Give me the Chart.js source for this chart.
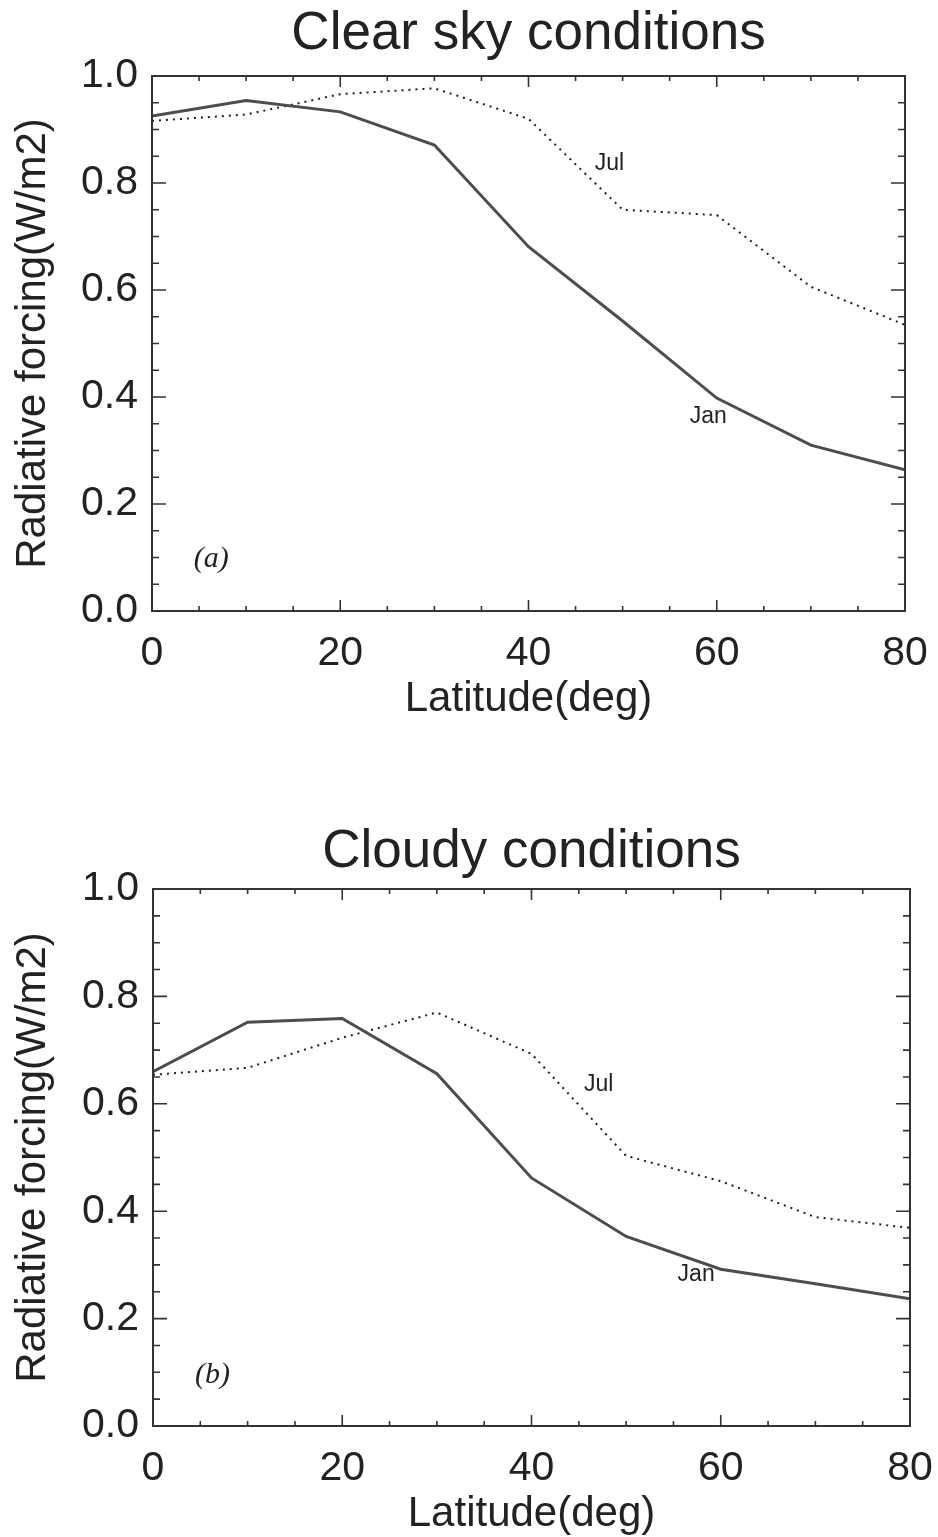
<!DOCTYPE html>
<html>
<head>
<meta charset="utf-8">
<script src="https://cdn.jsdelivr.net/npm/chart.js@4.4.1/dist/chart.umd.min.js"></script>
<style>
  html, body { margin: 0; padding: 0; background: #fff; }
  #wrap { position: relative; width: 938px; height: 1537px; }
  #boxA { position: absolute; left: 0; top: 0; width: 938px; height: 770px; }
  #boxB { position: absolute; left: 0; top: 770px; width: 938px; height: 767px; }
</style>
</head>
<body>
<div id="wrap">
  <div id="boxA"><canvas id="clearChart" width="938" height="770"></canvas></div>
  <div id="boxB"><canvas id="cloudyChart" width="938" height="767"></canvas></div>
</div>
<script>
// latitudine (gradi)
const latitudes = [0, 10, 20, 30, 40, 50, 60, 70, 80];

// cielo sereno
const clearJan = [0.925, 0.954, 0.933, 0.871, 0.681, 0.542, 0.398, 0.310, 0.264];
const clearJul = [0.916, 0.928, 0.966, 0.977, 0.920, 0.750, 0.740, 0.606, 0.535];

// cielo nuvoloso
const cloudyJan = [0.660, 0.752, 0.759, 0.656, 0.462, 0.353, 0.292, 0.265, 0.237];
const cloudyJul = [0.654, 0.667, 0.723, 0.770, 0.693, 0.503, 0.456, 0.389, 0.369];

// tick
const xTicks = [0, 20, 40, 60, 80];
const yTicks = [0.0, 0.2, 0.4, 0.6, 0.8, 1.0];

const FONT = "'Liberation Sans', Arial, Helvetica, sans-serif";
const INK = '#222';

// riquadro con tacche verso l'interno (stile IDL)
const boxTicks = {
    id: 'boxTicks',
    afterDatasetsDraw(chart) {
        const { ctx, chartArea: a, scales: { x, y } } = chart;
        ctx.save();
        ctx.strokeStyle = '#333';
        ctx.lineWidth = 2;
        ctx.strokeRect(a.left, a.top, a.right - a.left, a.bottom - a.top);
        ctx.lineWidth = 1.6;
        ctx.beginPath();
        // tacche asse x: maggiori ogni 20, minori ogni 5
        for (let v = x.min; v <= x.max + 1e-6; v += 5) {
            const px = x.getPixelForValue(v);
            const len = xTicks.includes(Math.round(v)) ? 11 : 5;
            ctx.moveTo(px, a.bottom); ctx.lineTo(px, a.bottom - len);
            ctx.moveTo(px, a.top); ctx.lineTo(px, a.top + len);
        }
        // tacche asse y: maggiori ogni 0.2, minori ogni 0.05
        for (let k = 0; k <= 20; k++) {
            const v = k * 0.05;
            const py = y.getPixelForValue(v);
            const len = (k % 4 === 0) ? 14 : 7;
            ctx.moveTo(a.left, py); ctx.lineTo(a.left + len, py);
            ctx.moveTo(a.right, py); ctx.lineTo(a.right - len, py);
        }
        ctx.stroke();
        ctx.restore();
    }
};

// etichette dentro il grafico (Jul, Jan, (a))
const etichette = {
    id: 'etichette',
    afterDatasetsDraw(chart, args, opts) {
        const { ctx, scales: { x, y } } = chart;
        ctx.save();
        ctx.fillStyle = INK;
        ctx.textAlign = 'center';
        ctx.textBaseline = 'middle';
        for (const t of opts.items) {
            ctx.font = t.font;
            ctx.fillText(t.text, x.getPixelForValue(t.x), y.getPixelForValue(t.y));
        }
        ctx.restore();
    }
};

function creaGrafico(id, titolo, jan, jul, lay, items) {
    const ctx = document.getElementById(id).getContext('2d');
    return new Chart(ctx, {
        type: 'line',
        data: {
            datasets: [
                {
                    label: 'Jan',
                    data: latitudes.map((v, i) => ({ x: v, y: jan[i] })),
                    borderColor: '#4d4d4d',
                    borderWidth: 3,
                    pointRadius: 0,
                    tension: 0
                },
                {
                    label: 'Jul',
                    data: latitudes.map((v, i) => ({ x: v, y: jul[i] })),
                    borderColor: '#1e1e1e',
                    borderWidth: 2,
                    borderDash: [2, 5],
                    pointRadius: 0,
                    tension: 0
                }
            ]
        },
        options: {
            responsive: false,
            animation: false,
            layout: { padding: { top: lay.padTop, right: lay.padRight, left: 0, bottom: 0 } },
            plugins: {
                legend: { display: false },
                tooltip: { enabled: false },
                title: {
                    display: true,
                    text: titolo,
                    fullSize: false,
                    color: INK,
                    font: { family: FONT, size: 53, weight: 'normal', lineHeight: 1 },
                    padding: { top: lay.titleTop, bottom: lay.titleGap }
                },
                etichette: { items: items }
            },
            scales: {
                x: {
                    type: 'linear',
                    min: 0,
                    max: 80,
                    grid: { display: false, drawTicks: false },
                    border: { display: false },
                    afterBuildTicks: (s) => { s.ticks = xTicks.map(v => ({ value: v })); },
                    afterFit: (s) => {
                        s.height = lay.xHeight;
                        s.paddingLeft = 0;
                        s.paddingRight = 0;
                    },
                    ticks: {
                        color: INK,
                        padding: 18,
                        maxRotation: 0,
                        font: { family: FONT, size: 41 },
                        callback: (v) => String(v)
                    },
                    title: {
                        display: true,
                        text: 'Latitude(deg)',
                        color: INK,
                        font: { family: FONT, size: 42, lineHeight: 1 },
                        padding: { top: 0, bottom: lay.xTitleGap }
                    }
                },
                y: {
                    min: 0,
                    max: 1,
                    grid: { display: false, drawTicks: false },
                    border: { display: false },
                    afterBuildTicks: (s) => { s.ticks = yTicks.map(v => ({ value: v })); },
                    afterFit: (s) => { s.width = lay.yWidth; },
                    ticks: {
                        color: INK,
                        padding: 14,
                        font: { family: FONT, size: 41 },
                        callback: (v) => Number(v).toFixed(1)
                    },
                    title: {
                        display: true,
                        text: 'Radiative forcing(W/m2)',
                        color: INK,
                        font: { family: FONT, size: 42, lineHeight: 1 },
                        padding: { top: 12, bottom: 0 }
                    }
                }
            }
        },
        plugins: [boxTicks, etichette]
    });
}

const fontNote = "23px " + FONT;
const fontPanel = "italic 30px 'Liberation Serif', 'Times New Roman', serif";

creaGrafico('clearChart', 'Clear sky conditions', clearJan, clearJul,
    { padTop: 0, padRight: 33, titleTop: 8, titleGap: 15, xHeight: 159, xTitleGap: 50, yWidth: 152 },
    [
        { text: 'Jul', x: 48.6, y: 0.837, font: fontNote },
        { text: 'Jan', x: 59.1, y: 0.364, font: fontNote },
        { text: '(a)', x: 6.3, y: 0.097, font: fontPanel }
    ]);

creaGrafico('cloudyChart', 'Cloudy conditions', cloudyJan, cloudyJul,
    { padTop: 50, padRight: 28, titleTop: 6, titleGap: 10, xHeight: 111, xTitleGap: 2, yWidth: 153 },
    [
        { text: 'Jul', x: 47.1, y: 0.635, font: fontNote },
        { text: 'Jan', x: 57.4, y: 0.281, font: fontNote },
        { text: '(b)', x: 6.3, y: 0.095, font: fontPanel }
    ]);
</script>
</body>
</html>
